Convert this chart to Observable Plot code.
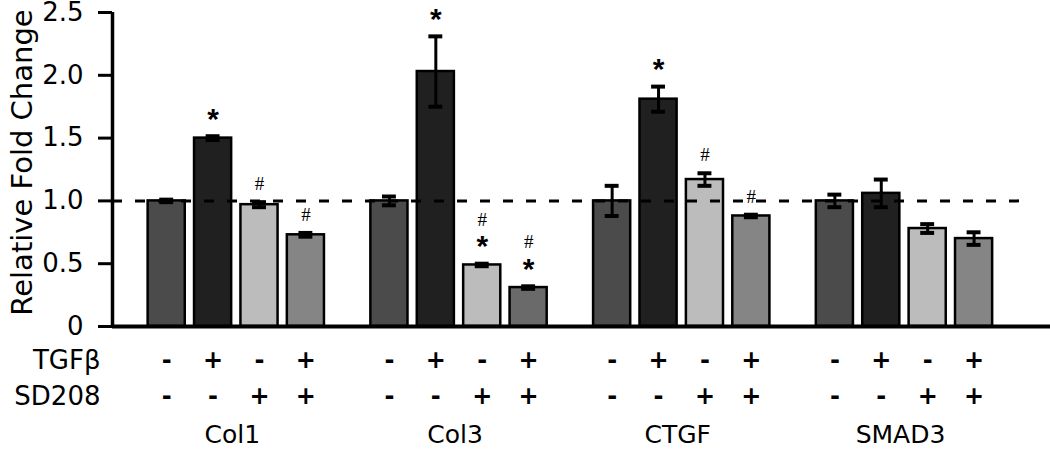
<!DOCTYPE html>
<html><head><meta charset="utf-8">
<script src="https://cdn.jsdelivr.net/npm/d3@7"></script>
<script src="https://cdn.jsdelivr.net/npm/@observablehq/plot@0.6"></script>
<style>body{margin:0;background:#fff} #chart svg{font-family:"DejaVu Sans",sans-serif;background:#fff}</style>
</head><body><div id="chart"></div>
<script>
// ---- data ----
const genes = ["Col1", "Col3", "CTGF", "SMAD3"];
const tgfb  = ["-", "+", "-", "+"];
const sd208 = ["-", "-", "+", "+"];

const col1Mean  = [1.00, 1.50, 0.97, 0.73];
const col1Err   = [0.01, 0.015, 0.02, 0.015];
const col3Mean  = [1.00, 2.03, 0.49, 0.31];
const col3Err   = [0.035, 0.28, 0.01, 0.01];
const ctgfMean  = [1.00, 1.81, 1.17, 0.88];
const ctgfErr   = [0.12, 0.10, 0.05, 0.01];
const smad3Mean = [1.00, 1.06, 0.78, 0.70];
const smad3Err  = [0.05, 0.11, 0.035, 0.05];

const col1Star  = [0, 1, 0, 0], col1Hash  = [0, 0, 1, 1];
const col3Star  = [0, 1, 1, 1], col3Hash  = [0, 0, 1, 1];
const ctgfStar  = [0, 1, 0, 0], ctgfHash  = [0, 0, 1, 1];
const smad3Star = [0, 0, 0, 0], smad3Hash = [0, 0, 0, 0];

const yTicks = [0, 0.5, 1.0, 1.5, 2.0, 2.5];
const reference = 1.0;

// ---- layout (slot units) ----
const groupStep = 4.8, barHalf = 0.4, capHalf = 0.15;
const xMin = -1.168, xMax = 19.047, dashEnd = 18.64;

const means = [col1Mean, col3Mean, ctgfMean, smad3Mean];
const errs  = [col1Err, col3Err, ctgfErr, smad3Err];
const stars = [col1Star, col3Star, ctgfStar, smad3Star];
const hashes = [col1Hash, col3Hash, ctgfHash, smad3Hash];
const fills = ["#4b4b4b", "#202020", "#bcbcbc", "#858585"];

const rows = genes.flatMap((g, gi) => means[gi].map((m, ci) => ({
  gene: g, gi, ci, pos: gi * groupStep + ci, mean: m, err: errs[gi][ci],
  star: stars[gi][ci], hash: hashes[gi][ci], tgf: tgfb[ci], sd: sd208[ci]
})));
const groups = genes.map((g, gi) => ({gene: g, pos: gi * groupStep + 1.5}));
const upper = d => d.mean + d.err;
const lower = d => d.mean - d.err;

const chart = Plot.plot({
  width: 1050, height: 449,
  marginLeft: 112, marginRight: 0, marginTop: 12, marginBottom: 123,
  x: {domain: [xMin, xMax], axis: null},
  y: {domain: [0, 2.5], axis: null},
  marks: [
    Plot.rectY(rows, {x1: d => d.pos - barHalf, x2: d => d.pos + barHalf, y1: 0, y2: "mean",
      fill: d => (d.gene === "Col3" && d.ci === 3) ? "#6a6a6a" : fills[d.ci],
      stroke: "black", strokeWidth: 2.5}),
    Plot.ruleX(rows, {x: "pos", y1: lower, y2: upper, stroke: "black", strokeWidth: 3}),
    Plot.ruleY(rows, {y: upper, x1: d => d.pos - capHalf, x2: d => d.pos + capHalf, stroke: "black", strokeWidth: 4}),
    Plot.ruleY(rows, {y: lower, x1: d => d.pos - capHalf, x2: d => d.pos + capHalf, stroke: "black", strokeWidth: 4}),
    Plot.ruleY([reference], {x1: xMin, x2: dashEnd, stroke: "black", strokeWidth: 3, strokeDasharray: "10,13"}),
    Plot.ruleY([0], {stroke: "black", strokeWidth: 4}),
    Plot.ruleX([xMin], {y1: 0, y2: 2.5, stroke: "black", strokeWidth: 3.5}),
    Plot.axisY(yTicks, {label: null, tickSize: 14, tickPadding: 15, strokeWidth: 3, fontSize: 26,
      tickFormat: d => d === 0 ? "0" : d.toFixed(1)}),
    Plot.text(["Relative Fold Change"], {frameAnchor: "left", textAnchor: "middle", lineAnchor: "middle",
      rotate: -90, dx: -90, dy: -7, fontSize: 29}),
    // significance marks
    Plot.text(rows.filter(d => d.star), {x: "pos", y: upper, text: () => "*", dy: -17,
      fontSize: 30, fontWeight: "bold", fontFamily: "Liberation Sans"}),
    Plot.text(rows.filter(d => d.hash && !d.star), {x: "pos", y: upper, text: () => "#", dy: -18,
      fontSize: 19, fontFamily: "Liberation Serif"}),
    Plot.text(rows.filter(d => d.hash && d.star), {x: "pos", y: upper, text: () => "#", dy: -44,
      fontSize: 19, fontFamily: "Liberation Serif"}),
    // treatment rows
    Plot.text(rows, {x: "pos", text: "tgf", frameAnchor: "bottom", lineAnchor: "middle", dy: 34, fontSize: 24, fontWeight: "bold"}),
    Plot.text(rows, {x: "pos", text: "sd", frameAnchor: "bottom", lineAnchor: "middle", dy: 70, fontSize: 24, fontWeight: "bold"}),
    Plot.text(["TGFβ"], {frameAnchor: "bottom-left", lineAnchor: "middle", dx: -12, dy: 34, textAnchor: "end", fontSize: 26}),
    Plot.text(["SD208"], {frameAnchor: "bottom-left", lineAnchor: "middle", dx: -12, dy: 70, textAnchor: "end", fontSize: 26}),
    Plot.text(groups, {x: "pos", text: "gene", frameAnchor: "bottom", lineAnchor: "middle", dy: 108, dx: -4, fontSize: 25})
  ]
});
document.getElementById("chart").appendChild(chart);
</script>
</body></html>
